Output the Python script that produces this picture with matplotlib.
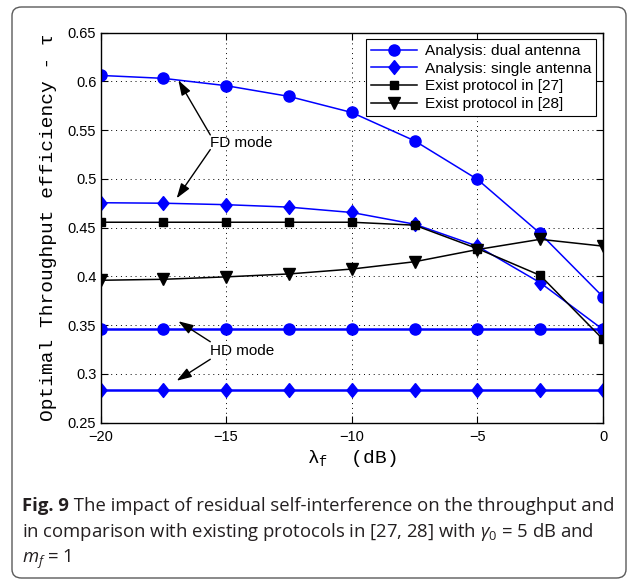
import matplotlib
matplotlib.use('Agg')
from matplotlib import pyplot
from matplotlib import patches

# Data.
lambda_f = [-20, -17.5, -15, -12.5, -10, -7.5, -5, -2.5, 0]
fd_dual = [0.606, 0.603, 0.5955, 0.5845, 0.568, 0.539, 0.4995, 0.444, 0.379]
fd_single = [0.4755, 0.475, 0.4735, 0.471, 0.4655, 0.4535, 0.431, 0.3935, 0.3455]
exist_27 = [0.4555, 0.4555, 0.4555, 0.4555, 0.4555, 0.4525, 0.4285, 0.401, 0.3355]
exist_28 = [0.396, 0.397, 0.3995, 0.4025, 0.4075, 0.415, 0.4275, 0.438, 0.431]
hd_dual = [0.3465, 0.3465, 0.3465, 0.3465, 0.3465, 0.3465, 0.3465, 0.3465, 0.3465]
hd_single = [0.2835, 0.2835, 0.2835, 0.2835, 0.2835, 0.2835, 0.2835, 0.2835, 0.2835]
labels = ['Analysis: dual antenna', 'Analysis: single antenna',
          'Exist protocol in [27]', 'Exist protocol in [28]']
xticks = [-20, -15, -10, -5, 0]
yticks = [0.25, 0.3, 0.35, 0.4, 0.45, 0.5, 0.55, 0.6, 0.65]

W, H = 636, 581
SANS = 'Liberation Sans'
MONO = 'Liberation Mono'
CAP = 'Open Sans'

pyplot.rcParams['mathtext.fontset'] = 'custom'
pyplot.rcParams['mathtext.rm'] = CAP
pyplot.rcParams['mathtext.it'] = CAP + ':italic'
pyplot.rcParams['mathtext.tt'] = MONO

DIAMOND = [(0, 1), (0.8, 0), (0, -1), (-0.8, 0), (0, 1)]


def Px(x, y, w, h):
  """Pixel box (top-left origin) to figure fraction rect."""
  return [x / W, 1 - (y + h) / H, w / W, h / H]


def PlotCurves(ax):
  ax.plot(lambda_f, fd_dual, '-', color='blue', marker='o', markersize=8,
          linewidth=1.1, label=labels[0])
  ax.plot(lambda_f, fd_single, '-', color='blue', marker=DIAMOND, markersize=10,
          linewidth=1.1, label=labels[1])
  ax.plot(lambda_f, hd_dual, '-', color='blue', marker='o', markersize=8,
          linewidth=1.8, label='_nolegend_')
  ax.plot(lambda_f, hd_single, '-', color='blue', marker=DIAMOND, markersize=10,
          linewidth=1.8, label='_nolegend_')
  ax.plot(lambda_f, exist_27, '-', color='black', marker='s', markersize=6,
          linewidth=1.1, label=labels[2])
  ax.plot(lambda_f, exist_28, '-', color='black', marker='v', markersize=8,
          linewidth=1.1, label=labels[3])


def Annotate(ax, text, ytext, heads):
  ax.text(-15.63, ytext, text, fontsize=11, family=SANS, va='center', ha='left')
  for (tx, ty), (hx, hy) in heads:
    ax.annotate('', xy=(hx, hy), xytext=(tx, ty),
                arrowprops=dict(arrowstyle='-|>,head_length=0.9,head_width=0.3',
                                color='black', lw=1.0, shrinkA=0, shrinkB=0))


def Run():
  fig = pyplot.figure(figsize=(W / 100, H / 100), dpi=100)

  # Rounded frame around the whole figure.
  frame = patches.FancyBboxPatch(
      (12 / W, 1 - 578 / H), 614 / W, 571 / H,
      boxstyle='round,pad=0,rounding_size=0.015', transform=fig.transFigure,
      facecolor='none', edgecolor='#5a5a5a', linewidth=1.0, zorder=5)
  fig.patches.append(frame)

  ax = fig.add_axes(Px(100.5, 32.5, 502.5, 390.2))
  PlotCurves(ax)
  ax.set_xlim(-20, 0)
  ax.set_ylim(0.25, 0.65)
  ax.set_xticks(xticks)
  ax.set_yticks(yticks)
  ax.set_xticklabels(['\u221220', '\u221215', '\u221210', '\u22125', '0'])
  ax.set_yticklabels(['0.25', '0.3', '0.35', '0.4', '0.45', '0.5', '0.55',
                      '0.6', '0.65'])
  ax.tick_params(direction='in', length=5, top=True, right=True,
                 labelsize=10.5, width=0.8, pad=3)
  ax.tick_params(axis='x', pad=5)
  for lab in ax.get_xticklabels() + ax.get_yticklabels():
    lab.set_family(SANS)
  ax.grid(True, color='black', linestyle=(0, (1, 4)), linewidth=0.7)
  for sp in ax.spines.values():
    sp.set_linewidth(1.0)

  ax.set_ylabel('Optimal Throughput efficiency - \u03c4', family=MONO,
                fontsize=14, labelpad=8)
  ax.set_xlabel('\u03bb$_{\\mathtt{f}}$  (dB)', family=MONO, fontsize=14,
                labelpad=3)

  leg = ax.legend(loc='upper right', prop={'family': SANS, 'size': 11.1},
                  fancybox=False, framealpha=1, edgecolor='black',
                  handlelength=3.0, labelspacing=0.24, borderpad=0.3,
                  handletextpad=0.5, borderaxespad=0.45)
  leg.get_frame().set_linewidth(0.8)

  Annotate(ax, 'FD mode', 0.537,
           [((-15.63, 0.545), (-16.9, 0.601)), ((-15.63, 0.530), (-16.97, 0.480))])
  Annotate(ax, 'HD mode', 0.324,
           [((-15.63, 0.333), (-16.9, 0.354)), ((-15.63, 0.315), (-16.97, 0.293))])

  # Caption.
  x0 = 22 / W
  size = 13.3
  color = '#231f20'
  fig_lab = fig.text(x0, 1 - 511 / H, 'Fig. 9', family=CAP, weight='bold',
                     fontsize=size, color=color, va='baseline')
  renderer = fig.canvas.get_renderer()
  bb = fig_lab.get_window_extent(renderer)
  fig.text(bb.x1 / W, 1 - 511 / H,
           ' The impact of residual self-interference on the throughput and',
           family=CAP, fontsize=size, color=color, va='baseline')
  fig.text(x0, 1 - 537 / H,
           'in comparison with existing protocols in [27, 28] with '
           '$\\gamma_0$ = 5 dB and',
           family=CAP, fontsize=size, color=color, va='baseline')
  fig.text(x0, 1 - 563 / H, '$m_f$ = 1', family=CAP, fontsize=size,
           color=color, va='baseline')

  fig.savefig('out.png', dpi=100)


if __name__ == '__main__':
  Run()
